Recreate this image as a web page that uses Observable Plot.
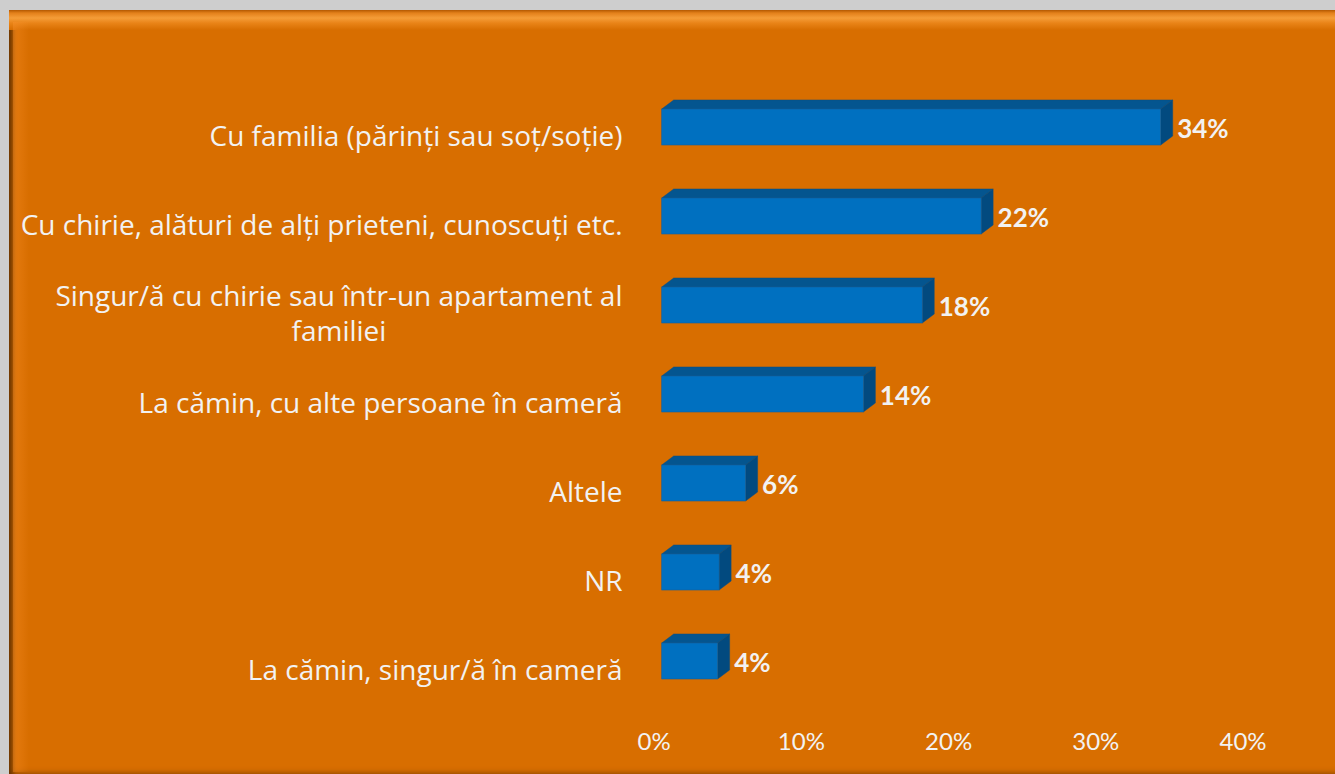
<!DOCTYPE html>
<html><head><meta charset="utf-8">
<script src="https://cdn.jsdelivr.net/npm/d3@7"></script>
<script src="https://cdn.jsdelivr.net/npm/@observablehq/plot@0.6"></script>
<style>
html,body{margin:0;padding:0;background:#CECECE;width:1335px;height:774px;overflow:hidden;}
#panel{position:absolute;left:9px;top:10px;width:1340px;height:770px;background:#D86E00;
  box-shadow: inset 5px 0 4px -1px rgba(95,48,0,.85), inset 0 -9px 6px -3px rgba(95,48,0,.8);}
#panel::before{content:"";position:absolute;left:0;right:0;top:0;height:20px;
  background:linear-gradient(#B35800 0px,#E3801A 3px,#F59D38 8px,#E98418 13px,#D86E00 20px);}
#panel::after{content:"";position:absolute;left:4px;top:12px;bottom:8px;width:16px;
  background:linear-gradient(to right,rgba(255,150,50,.35),rgba(255,150,50,0));}
#chart{position:absolute;left:0;top:0;}
</style></head>
<body><div id="panel"></div><div id="chart"></div>
<script>
const categories = [
  "Cu familia (părinți sau soț/soție)",
  "Cu chirie, alături de alți prieteni, cunoscuți etc.",
  "Singur/ă cu chirie sau într-un apartament al\nfamiliei",
  "La cămin, cu alte persoane în cameră",
  "Altele",
  "NR",
  "La cămin, singur/ă în cameră"
];
const values = [33.9, 21.7, 17.7, 13.7, 5.7, 3.9, 3.8];
const valueLabels = ["34%", "22%", "18%", "14%", "6%", "4%", "4%"];
const tickValues = [0, 10, 20, 30, 40];
const tickLabels = ["0%", "10%", "20%", "30%", "40%"];

const data = categories.map((c, i) => ({category: c, value: values[i], label: valueLabels[i]}));
const ticks = tickValues.map((v, i) => ({v, label: tickLabels[i]}));

const chart = Plot.plot({
  width: 1335, height: 774,
  marginLeft: 622, marginRight: 84, marginTop: 55, marginBottom: 25,
  style: {background: "transparent", fontFamily: "Lato, sans-serif", color: "#F2F2F2", overflow: "visible"},
  x: {domain: [0, 40], range: [661.7, 1250.5], axis: null},
  y: {domain: categories, range: [55.25, 731.75], padding: 0.601, axis: null},
  marks: [
    Plot.barX(data, {y: "category", x: "value", fill: "#0070C0", stroke: "#175F98", strokeWidth: 0.6}),
    Plot.text(data, {y: "category", x: "value", text: "label", textAnchor: "start", dx: 16, dy: 2,
      fill: "#F2F2F2", fontSize: 26, fontWeight: "bold"}),
    Plot.text(data, {y: "category", text: "category", frameAnchor: "left", textAnchor: "end", dy: 7,
      fill: "#F2F2F2", fontSize: 28, fontFamily: "'Open Sans', sans-serif", lineHeight: 1.25}),
    Plot.text(ticks, {x: "v", text: "label", frameAnchor: "bottom", dx: -8, fill: "#F2F2F2", fontSize: 24})
  ]
});
document.getElementById("chart").appendChild(chart);

// 3D faces derived from the plot's own scales
const xs = chart.scale("x"), ys = chart.scale("y");
const svg = d3.select(chart);
const faces = svg.insert("g", "g[aria-label=bar]");
const DX = 12, DY = -9;
data.forEach(d => {
  const x0 = xs.apply(0), x1 = xs.apply(d.value), y0 = ys.apply(d.category), h = ys.bandwidth;
  faces.append("polygon")
    .attr("points", [[x0, y0], [x0 + DX, y0 + DY], [x1 + DX, y0 + DY], [x1, y0]].join(" "))
    .attr("fill", "#04558F").attr("stroke", "#0A4F82").attr("stroke-width", 0.5);
  faces.append("polygon")
    .attr("points", [[x1, y0], [x1 + DX, y0 + DY], [x1 + DX, y0 + h + DY], [x1, y0 + h]].join(" "))
    .attr("fill", "#024A7F").attr("stroke", "#0A4F82").attr("stroke-width", 0.5);
});

// center the lines of wrapped category labels within their block (right edge fixed)
svg.selectAll("text").each(function() {
  const spans = this.querySelectorAll("tspan");
  if (spans.length > 1) {
    let w = 0;
    spans.forEach(s => { w = Math.max(w, s.getComputedTextLength()); });
    this.setAttribute("text-anchor", "middle");
    spans.forEach(s => s.setAttribute("x", -w / 2));
  }
});
</script>
</body></html>
